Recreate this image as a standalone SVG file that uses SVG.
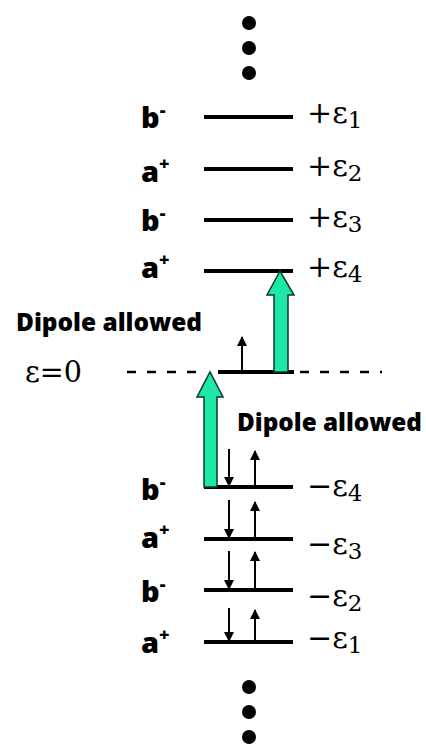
<svg xmlns="http://www.w3.org/2000/svg" width="426" height="744" viewBox="0 0 426 744">
<style>
.lvl{stroke:#000;stroke-width:4;fill:none}
.spin{stroke:#000;stroke-width:2;fill:none}
.sym{font-family:"Open Sans","DejaVu Sans",sans-serif;font-weight:800;font-size:29px;fill:#000}
.sup{font-size:18px}
.en{font-family:"DejaVu Serif","Liberation Serif",serif;font-size:30px;fill:#000}
.sub{font-size:23px}
.lab{font-family:"Open Sans","DejaVu Sans",sans-serif;font-weight:800;font-size:24px;fill:#000}
.green{fill:#1de8a8;stroke:#0a3a2a;stroke-width:1.5;stroke-linejoin:miter}
.dash{stroke:#000;stroke-width:2.5;stroke-dasharray:9 11}
.dot{fill:#000}
</style>
<defs>
<marker id="ah" viewBox="0 0 10 10" refX="9" refY="5" markerWidth="5" markerHeight="5" orient="auto">
<path d="M0,0 L10,5 L0,10 z" fill="#000"/>
</marker>
</defs>
<g id="dots-top">
<circle class="dot" cx="249" cy="23" r="7"/>
<circle class="dot" cx="249" cy="48" r="7"/>
<circle class="dot" cx="249" cy="73" r="7"/>
</g>
<g id="dots-bottom">
<circle class="dot" cx="249" cy="687" r="7"/>
<circle class="dot" cx="249" cy="712" r="7"/>
<circle class="dot" cx="249" cy="737" r="7"/>
</g>
<g id="level-p1">
<line class="lvl" x1="204" y1="117" x2="293" y2="117"/>
<text class="sym" x="141" y="128">b<tspan class="sup" dy="-12">-</tspan></text>
<text class="en" x="307" y="123">+ε<tspan class="sub" dy="5">1</tspan></text>
</g>
<g id="level-p2">
<line class="lvl" x1="204" y1="169" x2="293" y2="169"/>
<text class="sym" x="141" y="182">a<tspan class="sup" dy="-12">+</tspan></text>
<text class="en" x="307" y="176">+ε<tspan class="sub" dy="5">2</tspan></text>
</g>
<g id="level-p3">
<line class="lvl" x1="204" y1="220" x2="293" y2="220"/>
<text class="sym" x="141" y="231">b<tspan class="sup" dy="-12">-</tspan></text>
<text class="en" x="307" y="227">+ε<tspan class="sub" dy="5">3</tspan></text>
</g>
<g id="level-p4">
<line class="lvl" x1="204" y1="271" x2="293" y2="271"/>
<text class="sym" x="141" y="278">a<tspan class="sup" dy="-12">+</tspan></text>
<text class="en" x="307" y="277">+ε<tspan class="sub" dy="5">4</tspan></text>
</g>
<g id="level-zero">
<line class="dash" x1="127" y1="372" x2="200" y2="372"/>
<line class="dash" x1="300" y1="372" x2="382" y2="372"/>
<line class="lvl" x1="218" y1="372" x2="294" y2="372"/>
<text class="en" x="25" y="382" textLength="57" lengthAdjust="spacingAndGlyphs">ε=0</text>
</g>
<g id="level-m4">
<line class="lvl" x1="204" y1="487" x2="293" y2="487"/>
<text class="sym" x="141" y="500">b<tspan class="sup" dy="-12">-</tspan></text>
<text class="en" x="307" y="496">−ε<tspan class="sub" dy="5">4</tspan></text>
</g>
<g id="level-m3">
<line class="lvl" x1="204" y1="539" x2="293" y2="539"/>
<text class="sym" x="141" y="548">a<tspan class="sup" dy="-12">+</tspan></text>
<text class="en" x="307" y="554">−ε<tspan class="sub" dy="5">3</tspan></text>
</g>
<g id="level-m2">
<line class="lvl" x1="204" y1="590" x2="293" y2="590"/>
<text class="sym" x="141" y="602">b<tspan class="sup" dy="-12">-</tspan></text>
<text class="en" x="307" y="606">−ε<tspan class="sub" dy="5">2</tspan></text>
</g>
<g id="level-m1">
<line class="lvl" x1="204" y1="642" x2="293" y2="642"/>
<text class="sym" x="141" y="653">a<tspan class="sup" dy="-12">+</tspan></text>
<text class="en" x="307" y="648">−ε<tspan class="sub" dy="5">1</tspan></text>
</g>
<g id="label-upper">
<text class="lab" x="16" y="331" textLength="186" lengthAdjust="spacingAndGlyphs">Dipole allowed</text>
</g>
<g id="label-lower">
<text class="lab" x="237" y="431" textLength="185" lengthAdjust="spacingAndGlyphs">Dipole allowed</text>
</g>
<g id="connectors">
<path class="green" d="M204,487 L204,397 L197,397 L210,372 L223,397 L217,397 L217,487 Z"/>
<path class="green" d="M274,372 L274,295 L267,295 L280,271 L294,295 L288,295 L288,372 Z"/>
<line class="spin" x1="242" y1="372" x2="242" y2="337" marker-end="url(#ah)"/>
<line class="spin" x1="229" y1="449" x2="229" y2="486" marker-end="url(#ah)"/>
<line class="spin" x1="255" y1="486" x2="255" y2="451" marker-end="url(#ah)"/>
<line class="spin" x1="229" y1="500" x2="229" y2="538" marker-end="url(#ah)"/>
<line class="spin" x1="255" y1="538" x2="255" y2="502" marker-end="url(#ah)"/>
<line class="spin" x1="229" y1="551" x2="229" y2="589" marker-end="url(#ah)"/>
<line class="spin" x1="255" y1="589" x2="255" y2="552" marker-end="url(#ah)"/>
<line class="spin" x1="229" y1="608" x2="229" y2="641" marker-end="url(#ah)"/>
<line class="spin" x1="255" y1="641" x2="255" y2="610" marker-end="url(#ah)"/>
</g>
</svg>
